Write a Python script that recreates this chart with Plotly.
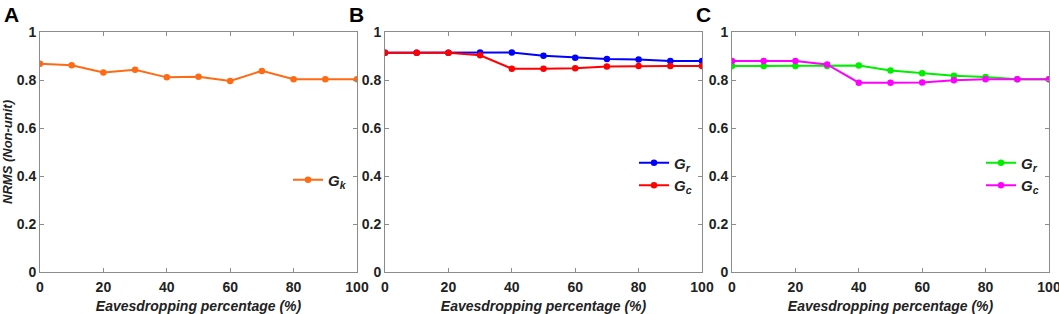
import plotly.graph_objects as go

x_pct = [0, 10, 20, 30, 40, 50, 60, 70, 80, 90, 100]
a_gk = [0.868, 0.861, 0.831, 0.843, 0.811, 0.814, 0.796, 0.838, 0.803, 0.803, 0.803]
b_gr = [0.914, 0.914, 0.914, 0.915, 0.915, 0.901, 0.893, 0.888, 0.885, 0.879, 0.879]
b_gc = [0.914, 0.914, 0.914, 0.903, 0.847, 0.847, 0.849, 0.856, 0.858, 0.858, 0.858]
c_gr = [0.858, 0.858, 0.858, 0.858, 0.860, 0.840, 0.828, 0.818, 0.813, 0.803, 0.803]
c_gc = [0.879, 0.879, 0.879, 0.865, 0.789, 0.789, 0.790, 0.799, 0.803, 0.803, 0.803]
panel_labels = ["A", "B", "C"]
x_ticks = [0, 20, 40, 60, 80, 100]
y_ticks = [0, 0.2, 0.4, 0.6, 0.8, 1]
y_tick_text = ["0", "0.2", "0.4", "0.6", "0.8", "1"]

W, H = 1059, 314
FONT = "Liberation Sans, Arial, sans-serif"
x_domains = [(40, 357), (385, 702), (732, 1049)]
y_top, y_bot = 32, 272

fig = go.Figure()

def add(series, name, color, idx):
    xa = "x" if idx == 1 else f"x{idx}"
    ya = "y" if idx == 1 else f"y{idx}"
    lg = "legend" if idx == 1 else f"legend{idx}"
    fig.add_trace(go.Scatter(
        x=x_pct, y=series, name=name, mode="lines+markers",
        line=dict(color=color, width=2), marker=dict(color=color, size=6.5),
        xaxis=xa, yaxis=ya, legend=lg, showlegend=True))

add(a_gk, "<b><i>G<sub>k</sub></i></b>", "#FF6A14", 1)
add(b_gr, "<b><i>G<sub>r</sub></i></b>", "#0000FF", 2)
add(b_gc, "<b><i>G<sub>c</sub></i></b>", "#FF0000", 2)
add(c_gr, "<b><i>G<sub>r</sub></i></b>", "#00EE00", 3)
add(c_gc, "<b><i>G<sub>c</sub></i></b>", "#FF00FF", 3)

layout = dict(
    width=W, height=H, margin=dict(l=0, r=0, t=0, b=0, autoexpand=False),
    paper_bgcolor="white", plot_bgcolor="white",
    font=dict(family=FONT, size=14, color="#222222"),
)
axis_common = dict(
    showline=True, linecolor="#8C8C8C", linewidth=1, mirror="ticks",
    ticks="inside", ticklen=4, tickcolor="#8C8C8C", showgrid=False,
    zeroline=False, automargin=False, ticklabeloverflow="allow",
    tickfont=dict(family=FONT, size=14, color="#222222"),
)
for i, (x0, x1) in enumerate(x_domains, start=1):
    suf = "" if i == 1 else str(i)
    layout[f"xaxis{suf}"] = dict(
        axis_common, domain=[x0 / W, x1 / W], range=[0, 100],
        tickvals=x_ticks, ticktext=[f"<b>{t}</b>" for t in x_ticks],
        anchor=f"y{suf}", ticklabelstandoff=2,
        title=dict(text="<b><i>Eavesdropping percentage (%)</i></b>",
                   font=dict(family=FONT, size=14, color="#222222"), standoff=7),
    )
    layout[f"yaxis{suf}"] = dict(
        axis_common, domain=[1 - y_bot / H, 1 - y_top / H], range=[0, 1],
        tickvals=y_ticks, ticktext=[f"<b>{t}</b>" for t in y_tick_text],
        anchor=f"x{suf}",
    )
layout["yaxis"]["title"] = dict(text="<b><i>NRMS (Non-unit)</i></b>",
                                font=dict(family=FONT, size=13, color="#222222"), standoff=6)

legend_common = dict(bgcolor="rgba(0,0,0,0)", borderwidth=0,
                     font=dict(family=FONT, size=15, color="#222222"),
                     xanchor="right", yanchor="middle", tracegroupgap=0)
layout["legend"] = dict(legend_common, x=352 / W, y=1 - 180 / H)
layout["legend2"] = dict(legend_common, x=697 / W, y=1 - 174 / H)
layout["legend3"] = dict(legend_common, x=1044 / W, y=1 - 174 / H)

annotations = []
for lab, (x0, x1) in zip(panel_labels, x_domains):
    annotations.append(dict(
        text=f"<b>{lab}</b>", x=(x0 - 38) / W, y=1 - 1 / H, xref="paper", yref="paper",
        xanchor="left", yanchor="top", showarrow=False,
        font=dict(family=FONT, size=21, color="#000000")))
layout["annotations"] = annotations

fig.update_layout(**layout)
fig.write_html("out.html", config={"displayModeBar": False},
               post_script="document.body.style.margin='0';document.body.style.overflow='hidden';")
